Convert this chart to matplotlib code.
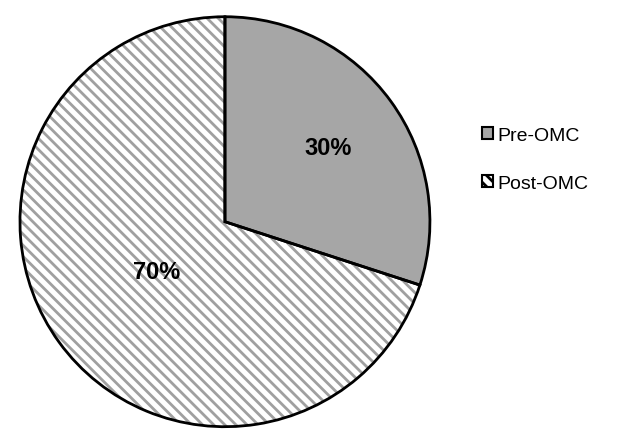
import numpy as np
import matplotlib.pyplot as plt
from matplotlib.patches import Patch

plt.rcParams['font.family'] = ['Liberation Sans', 'DejaVu Sans']
plt.rcParams['hatch.linewidth'] = 2.0

# Datos
etiquetas = ['Pre-OMC', 'Post-OMC']
valores = [30, 70]
colores = ['#a6a6a6', 'white']
tramas = ['', '\\\\\\']
gris_trama = '#a0a0a0'

fig = plt.figure(figsize=(6.18, 4.35), dpi=100)
ax = fig.add_axes([0.029, 0.012, 0.67, 0.952])

# Relleno con trama (el color del borde define el color de la trama)
cunas, _ = ax.pie(valores, colors=colores, startangle=90, counterclock=False,
                  wedgeprops={'edgecolor': gris_trama, 'linewidth': 0})
for c, t in zip(cunas, tramas):
    c.set_hatch(t)

# Contorno negro encima
bordes, _ = ax.pie(valores, startangle=90, counterclock=False,
                   wedgeprops={'fill': False, 'edgecolor': 'black', 'linewidth': 2})

# Porcentajes
for c, v, r in zip(cunas, valores, [0.62, 0.41]):
    ang = np.deg2rad((c.theta1 + c.theta2) / 2)
    ax.text(r * np.cos(ang), r * np.sin(ang), f'{v}%', ha='center', va='center',
            fontsize=17, fontweight='bold')
ax.set_xlim(-1.01, 1.01)
ax.set_ylim(-1.01, 1.01)
ax.set_aspect('equal')

# Leyenda
manejadores = [Patch(facecolor=col, edgecolor='black', hatch=t, linewidth=1.5)
               for col, t in zip(colores, tramas)]
leg = fig.legend(manejadores, etiquetas, loc='center left', bbox_to_anchor=(0.752, 0.632),
                 frameon=False, fontsize=14, handlelength=0.55, handleheight=0.55,
                 handletextpad=0.25, labelspacing=1.6)

fig.savefig('out.png', dpi=100)
